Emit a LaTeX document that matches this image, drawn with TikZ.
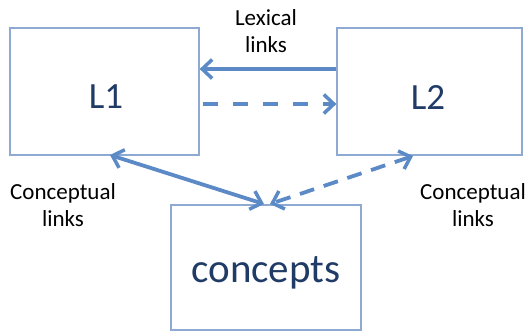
\documentclass[tikz,border=0pt]{standalone}
\usepackage{fontspec}
\setmainfont{Carlito}
\usetikzlibrary{arrows.meta}
\definecolor{boxc}{HTML}{8EAAD2}
\definecolor{arrc}{HTML}{5B8AC6}
\definecolor{txtc}{HTML}{1F3B66}
\tikzset{barb/.tip={Straight Barb[length=10pt,width=19pt,line width=3.5pt]}}
\begin{document}
\begin{tikzpicture}[x=1pt,y=-1pt,
  box/.style={draw=boxc,line width=1.3pt,inner sep=0pt},
  lnk/.style={arrc,line width=3.8pt,-barb},
  lbl/.style={font=\fontsize{23}{27}\selectfont,align=center,text=black},
  big/.style={font=\fontsize{37}{40}\selectfont,text=txtc}]
\useasboundingbox (0,0) rectangle (530,332);
\node[box,minimum width=189pt,minimum height=127pt] (L1) at (104.5,91.5) {};
\node[box,minimum width=185pt,minimum height=127pt] (L2) at (429.5,91.5) {};
\node[box,minimum width=190pt,minimum height=125pt] (C) at (266,267.5) {};
\node[big] (t1) at (106,97) {L1};
\node[big] (t2) at (428,97) {L2};
\node[big,font=\fontsize{41}{44}\selectfont] (tc) at (266,273) {concepts};
\node[lbl] (lex) at (266,31) {Lexical\\links};
\node[lbl] (cl) at (63,205) {Conceptual\\links};
\node[lbl] (cr) at (473,205) {Conceptual\\links};
\coordinate (a1) at (L2.west |- 0,69);
\coordinate (a2) at (L1.east |- 0,69);
\coordinate (b1) at (L1.east |- 0,104);
\coordinate (b2) at (L2.west |- 0,104);
\coordinate (c1) at (110,155);
\coordinate (c2) at (264,204);
\coordinate (d1) at (413,156);
\coordinate (d2) at (270,204);
\draw[lnk] (a1) -- (a2);
\draw[lnk,dash pattern=on 15pt off 15pt,dash phase=-3pt] (b1) -- (b2);
\draw[lnk,barb-barb] (c1) -- (c2);
\draw[lnk,dash pattern=on 15pt off 10pt,barb-barb] (d1) -- (d2);
\end{tikzpicture}
\end{document}
